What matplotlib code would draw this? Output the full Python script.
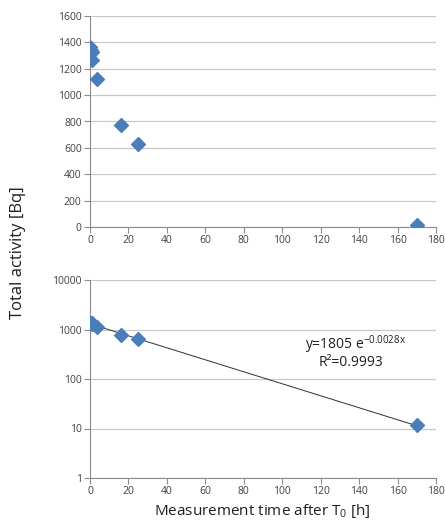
import numpy as np
import matplotlib
matplotlib.use("Agg")
import matplotlib.pyplot as plt
from matplotlib.ticker import FixedLocator, FixedFormatter, NullLocator

# measured data
time_h = [0, 0.5, 1, 1, 3.5, 16, 25, 170]
activity = [1365, 1345, 1325, 1270, 1125, 775, 630, 11.5]

x_ticks = [0, 20, 40, 60, 80, 100, 120, 140, 160, 180]
lin_ticks = [0, 200, 400, 600, 800, 1000, 1200, 1400, 1600]
log_ticks = [1, 10, 100, 1000, 10000]
log_labels = ["1", "10", "100", "1000", "10000"]

fit_text = r"y=1805 e$^{\mathrm{-0.0028x}}$"
r2_text = "R²=0.9993"

plt.rcParams['font.family'] = ['Open Sans', 'DejaVu Sans']
plt.rcParams['mathtext.fontset'] = 'custom'
plt.rcParams['mathtext.rm'] = 'Open Sans'

blue = "#4a7ebb"
grid_c = "#c8c8c8"
spine_c = "#8c8c8c"
label_c = "#404040"

fig = plt.figure(figsize=(4.45, 5.23), dpi=100)
ax1 = fig.add_axes([90/445, 1-227/523, 346/445, 211/523])
ax2 = fig.add_axes([90/445, 1-478/523, 346/445, 198/523])


def style(ax):
    for s in ["top", "right"]:
        ax.spines[s].set_visible(False)
    for s in ["left", "bottom"]:
        ax.spines[s].set_color(spine_c)
        ax.spines[s].set_linewidth(0.8)
    ax.grid(axis="y", color=grid_c, linewidth=0.9)
    ax.set_axisbelow(True)
    ax.tick_params(direction="out", length=4, width=0.8, color=spine_c,
                   labelsize=7.5, labelcolor=label_c, pad=2)
    ax.set_xlim(0, 180)
    ax.set_xticks(x_ticks)


# linear plot
style(ax1)
ax1.scatter(time_h, activity, marker="D", s=50, color=blue, zorder=3)
ax1.set_ylim(0, 1600)
ax1.set_yticks(lin_ticks)

# log plot with exponential trend line
style(ax2)
ax2.set_yscale("log")
ax2.set_ylim(1, 10000)
ax2.yaxis.set_major_locator(FixedLocator(log_ticks))
ax2.yaxis.set_major_formatter(FixedFormatter(log_labels))
ax2.yaxis.set_minor_locator(NullLocator())
b, a = np.polyfit(time_h, np.log(activity), 1)
xs = np.linspace(min(time_h), max(time_h), 50)
ax2.plot(xs, np.exp(a) * np.exp(b * xs), color="#303030", linewidth=0.7, zorder=2)
ax2.scatter(time_h, activity, marker="D", s=50, color=blue, zorder=3)
ax2.text(138, 490, fit_text, ha="center", va="center", fontsize=10, color="#202020")
ax2.text(136, 212, r2_text, ha="center", va="center", fontsize=10, color="#202020")

fig.text(18/445, 1-253/523, "Total activity [Bq]", rotation=90, ha="center",
         va="center", fontsize=12, color="#202020")
fig.text(262/445, 1-511/523, "Measurement time after T$_\\mathrm{0}$ [h]", ha="center",
         va="center", fontsize=11, color="#202020")

fig.savefig("out.png", dpi=100, facecolor="white")
